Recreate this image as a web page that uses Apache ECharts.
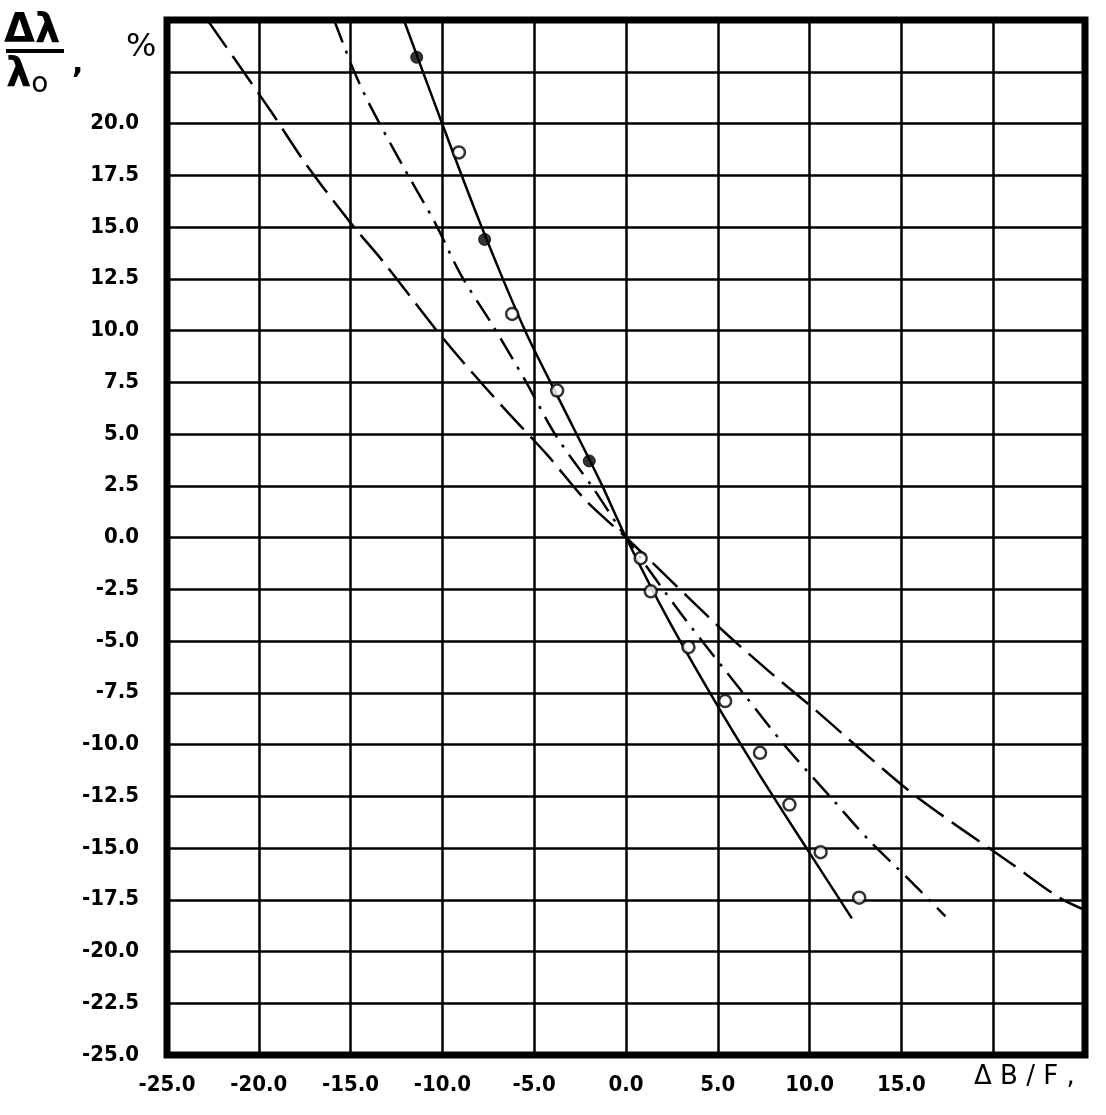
<!DOCTYPE html>
<html>
<head>
<meta charset="utf-8">
<script src="https://cdn.jsdelivr.net/npm/echarts@6/dist/echarts.min.js"></script>
<style>
  html, body { margin: 0; padding: 0; background: #fff; }
  #main { width: 1106px; height: 1115px; }
</style>
</head>
<body>
<div id="main"></div>
<script>
// axis ranges
var xMin = -25, xMax = 25, xStep = 5;
var yMin = -25, yMax = 25, yStep = 2.5;
var xHiddenLabels = [20, 25];
var yHiddenLabels = [22.5, 25];

// solid curve (steepest)
var curveA = [[-12.1, 25], [-10.1, 20.2], [-7.95, 15.2], [-5.5, 10], [-3.6, 6.6], [-1.4, 2.7], [0, 0],
  [2.2, -3.8], [4.7, -7.7], [7.3, -11.5], [9.9, -15.1], [12.3, -18.4]];
// dash-dot curve
var curveB = [[-15.9, 25], [-14.8, 22.5], [-13.9, 20.8], [-12.25, 18.1], [-10.4, 15.2], [-9.0, 12.7],
  [-7.3, 10.3], [-5.5, 7.6], [-3.8, 4.9], [-1.8, 2.4], [0, 0], [3.1, -3.8], [6.5, -7.65],
  [8.6, -10.0], [11.3, -12.7], [13.1, -14.5], [15.5, -16.6], [17.4, -18.3]];
// long-dash curve
var curveC = [[-22.8, 25], [-19.35, 20.6], [-17.4, 18.0], [-15.0, 15.2], [-13.2, 13.3], [-10.4, 10.1],
  [-8.9, 8.5], [-6.6, 6.2], [-4.3, 4.0], [-2.15, 1.75], [0, 0], [3.4, -2.9], [5.4, -4.6],
  [7.9, -6.55], [10.4, -8.4], [13.1, -10.5], [15.65, -12.4], [18.3, -14.1], [20.9, -15.7],
  [23.6, -17.4], [25, -18.0]];
// measured points
var openPoints = [[-9.1, 18.6], [-6.2, 10.8], [-3.75, 7.1], [0.8, -1.0], [1.35, -2.6], [3.4, -5.3],
  [5.4, -7.9], [7.3, -10.4], [8.9, -12.9], [10.6, -15.2], [12.7, -17.4]];
var filledPoints = [[-11.4, 23.2], [-7.7, 14.4], [-2.0, 3.7]];

var lblFont = 'DejaVu Sans Condensed';

var myChart = echarts.init(document.getElementById('main'));
myChart.setOption({
  backgroundColor: '#fff',
  animation: false,
  grid: {
    left: 167, right: 21, top: 20, bottom: 60,
    show: true, borderColor: '#000', borderWidth: 7, backgroundColor: 'transparent'
  },
  xAxis: {
    type: 'value', min: xMin, max: xMax, interval: xStep,
    axisLine: { show: false },
    axisTick: { show: false },
    splitLine: { lineStyle: { color: '#000', width: 2.5 } },
    axisLabel: {
      margin: 19, color: '#000', fontFamily: lblFont, fontWeight: 'bold', fontSize: 22,
      formatter: function (v) { return xHiddenLabels.indexOf(v) >= 0 ? '' : v.toFixed(1); }
    }
  },
  yAxis: {
    type: 'value', min: yMin, max: yMax, interval: yStep,
    axisLine: { show: false },
    axisTick: { show: false },
    splitLine: { lineStyle: { color: '#000', width: 2.5 } },
    axisLabel: {
      margin: 28, color: '#000', fontFamily: lblFont, fontWeight: 'bold', fontSize: 22,
      formatter: function (v) { return yHiddenLabels.indexOf(v) >= 0 ? '' : v.toFixed(1); }
    }
  },
  graphic: [
    { type: 'text', left: 4, top: 12, style: { text: 'Δλ', font: 'bold 40px "DejaVu Sans"', fill: '#000' } },
    { type: 'rect', left: 6, top: 49, shape: { width: 58, height: 4 }, style: { fill: '#000' } },
    { type: 'text', left: 6, top: 56, style: {
        text: '{a|λ}{b|o}',
        rich: {
          a: { font: 'bold 40px "DejaVu Sans"', fill: '#000' },
          b: { font: '28px "DejaVu Sans"', fill: '#000', padding: [18, 0, 0, 0] }
        }
      } },
    { type: 'text', left: 72, top: 50, style: { text: ',', font: 'bold 30px "DejaVu Sans"', fill: '#000' } },
    { type: 'text', left: 126, top: 32, style: { text: '%', font: '32px "DejaVu Sans"', fill: '#000' } },
    { type: 'text', left: 974, top: 1064, style: { text: 'Δ B / F ,', font: '26px "DejaVu Sans"', fill: '#000' } }
  ],
  series: [
    {
      name: 'A', type: 'line', data: curveA, smooth: 0.3, showSymbol: false,
      lineStyle: { color: '#000', width: 2.5, type: 'solid' }, z: 3
    },
    {
      name: 'B', type: 'line', data: curveB, smooth: 0.3, showSymbol: false,
      lineStyle: { color: '#000', width: 2.5, type: [24, 9, 3, 9] }, z: 3
    },
    {
      name: 'C', type: 'line', data: curveC, smooth: 0.3, showSymbol: false,
      lineStyle: { color: '#000', width: 2.5, type: [34, 10] }, z: 3
    },
    {
      name: 'open', type: 'scatter', data: openPoints, symbol: 'circle', symbolSize: 12,
      itemStyle: { color: '#fff', borderColor: '#000', borderWidth: 2.5 }, z: 4
    },
    {
      name: 'filled', type: 'scatter', data: filledPoints, symbol: 'circle', symbolSize: 12,
      itemStyle: { color: '#000', borderColor: '#000', borderWidth: 1 }, z: 4
    }
  ]
});
</script>
</body>
</html>
